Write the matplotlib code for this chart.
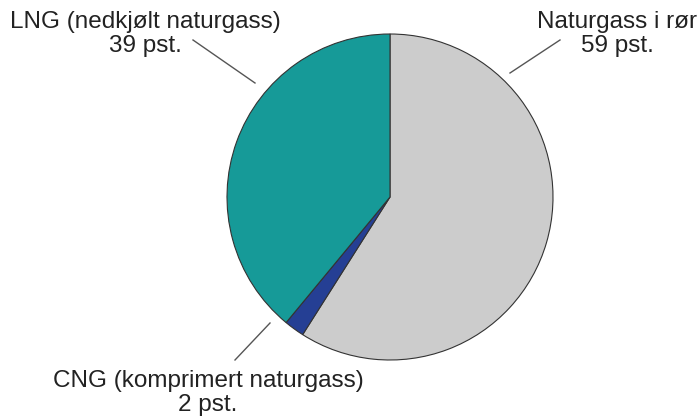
import matplotlib
matplotlib.use("Agg")
import matplotlib.pyplot as plt

# Norwegian gas export by transport form (share in percent)
categories = ["Naturgass i rør", "CNG (komprimert naturgass)", "LNG (nedkjølt naturgass)"]
shares = [59, 2, 39]
colors = ["#cccccc", "#253f94", "#169a98"]

W, H = 700, 419
fig = plt.figure(figsize=(W / 100, H / 100), dpi=100)
ax = fig.add_axes([0, 0, 1, 1])

cx, cy, r = 390, H - 197, 163
ax.pie(shares, colors=colors, startangle=90, counterclock=False,
       center=(cx, cy), radius=r, frame=True,
       wedgeprops=dict(edgecolor="#333333", linewidth=0.8))
ax.set_xlim(0, W)
ax.set_ylim(0, H)
ax.set_aspect("equal")
ax.axis("off")

font = dict(family=["Liberation Sans", "DejaVu Sans"], fontsize=17.5, color="#222222",
            ha="center", va="center", linespacing=1.12)

def label(name, value, x, y):
    ax.text(x, H - y, f"{name}\n{value} pst.", **font)

label(categories[2], shares[2], 145, 34)
label(categories[0], shares[0], 617, 34)
label(categories[1], shares[1], 208, 393)

line = dict(color="#555555", linewidth=1)
ax.plot([193, 255], [H - 40, H - 83], **line)
ax.plot([560, 510], [H - 40, H - 73], **line)
ax.plot([270, 235], [H - 323, H - 360], **line)

fig.savefig("out.png", dpi=100, facecolor="white")
